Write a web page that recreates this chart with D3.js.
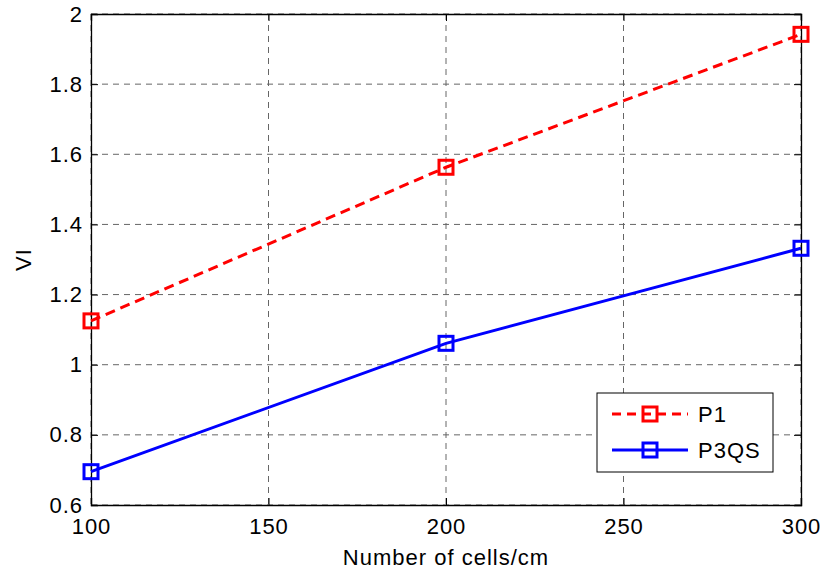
<!DOCTYPE html>
<html>
<head>
<meta charset="utf-8">
<script src="https://cdn.jsdelivr.net/npm/d3@7"></script>
<style>
  body { margin: 0; background: #fff; }
  text { font-family: "Liberation Sans", Arial, sans-serif; fill: #000; }
</style>
</head>
<body>
<div class="chart"></div>
<script>
var cells = [100, 200, 300];
var p1 = [1.125, 1.563, 1.942];
var p3qs = [0.695, 1.061, 1.332];
var xTicks = [100, 150, 200, 250, 300];
var yTicks = [0.6, 0.8, 1, 1.2, 1.4, 1.6, 1.8, 2];
var seriesNames = ["P1", "P3QS"];

var svgWidth = 824;
var svgHeight = 573;
var margin = { top: 14, right: 23, bottom: 68, left: 91 };
var width = svgWidth - margin.left - margin.right;
var height = svgHeight - margin.top - margin.bottom;
var fontSize = "22px";
var spacing = "1px";

var svg = d3.select(".chart").append("svg")
  .attr("width", svgWidth)
  .attr("height", svgHeight);

var chartGroup = svg.append("g")
  .attr("transform", `translate(${margin.left}, ${margin.top})`);

var xScale = d3.scaleLinear().domain([100, 300]).range([0, width]);
var yScale = d3.scaleLinear().domain([0.6, 2]).range([height, 0]);

// grid
chartGroup.selectAll(".vgrid").data(xTicks).enter().append("line")
  .attr("x1", d => xScale(d)).attr("x2", d => xScale(d))
  .attr("y1", 0).attr("y2", height)
  .attr("stroke", "#666").attr("stroke-width", 1)
  .attr("stroke-dasharray", "6,5");
chartGroup.selectAll(".hgrid").data(yTicks).enter().append("line")
  .attr("y1", d => yScale(d)).attr("y2", d => yScale(d))
  .attr("x1", 0).attr("x2", width)
  .attr("stroke", "#666").attr("stroke-width", 1)
  .attr("stroke-dasharray", "6,5");

// axes (inward ticks, box)
var bottomAxis = d3.axisBottom(xScale).tickValues(xTicks).tickSize(-7).tickPadding(13).tickFormat(d3.format("d"));
var leftAxis = d3.axisLeft(yScale).tickValues(yTicks).tickSize(-7).tickPadding(8).tickFormat(d => d3.format("")(d));
var topAxis = d3.axisTop(xScale).tickValues(xTicks).tickSize(-7).tickFormat("");
var rightAxis = d3.axisRight(yScale).tickValues(yTicks).tickSize(-7).tickFormat("");

chartGroup.append("g").attr("transform", `translate(0, ${height})`).call(bottomAxis);
chartGroup.append("g").call(leftAxis);
chartGroup.append("g").call(topAxis);
chartGroup.append("g").attr("transform", `translate(${width}, 0)`).call(rightAxis);

chartGroup.selectAll(".domain").attr("stroke", "#000").attr("stroke-width", 1.3);
chartGroup.selectAll(".tick line").attr("stroke", "#000");
chartGroup.selectAll(".tick text").attr("font-size", fontSize).attr("fill", "#000")
  .attr("letter-spacing", spacing)
  .style("font-family", "'Liberation Sans', Arial, sans-serif");

var line = d3.line().x((d, i) => xScale(cells[i])).y(d => yScale(d));

function drawSeries(values, color, dash) {
  chartGroup.append("path").datum(values)
    .attr("d", line)
    .attr("fill", "none")
    .attr("stroke", color)
    .attr("stroke-width", 3)
    .attr("stroke-dasharray", dash);
  chartGroup.selectAll(null).data(values).enter().append("rect")
    .attr("x", (d, i) => xScale(cells[i]) - 7)
    .attr("y", d => yScale(d) - 7)
    .attr("width", 14).attr("height", 14)
    .attr("fill", "none")
    .attr("stroke", color)
    .attr("stroke-width", 3);
}
drawSeries(p1, "#ff0000", "10,6");
drawSeries(p3qs, "#0000ff", null);

// legend
var legend = chartGroup.append("g")
  .attr("transform", `translate(${597 - margin.left}, ${393 - margin.top})`);
legend.append("rect")
  .attr("width", 176).attr("height", 79)
  .attr("fill", "#fff").attr("stroke", "#000").attr("stroke-width", 1);
var legendColors = ["#ff0000", "#0000ff"];
var legendDash = ["9,6", null];
seriesNames.forEach(function(name, i) {
  var y = 21 + i * 36;
  legend.append("line")
    .attr("x1", 15).attr("x2", 91).attr("y1", y).attr("y2", y)
    .attr("stroke", legendColors[i]).attr("stroke-width", 3)
    .attr("stroke-dasharray", legendDash[i]);
  legend.append("rect")
    .attr("x", 46).attr("y", y - 7).attr("width", 14).attr("height", 14)
    .attr("fill", "none").attr("stroke", legendColors[i]).attr("stroke-width", 3);
  legend.append("text")
    .attr("x", 101).attr("y", y + 8)
    .attr("font-size", fontSize)
    .attr("letter-spacing", spacing)
    .text(name);
});

// axis titles
chartGroup.append("text")
  .attr("transform", "rotate(-90)")
  .attr("x", -height / 2)
  .attr("y", -60)
  .attr("text-anchor", "middle")
  .attr("font-size", fontSize)
  .attr("letter-spacing", spacing)
  .text("VI");

chartGroup.append("text")
  .attr("x", width / 2)
  .attr("y", height + 60)
  .attr("text-anchor", "middle")
  .attr("font-size", fontSize)
  .attr("letter-spacing", spacing)
  .text("Number of cells/cm");
</script>
</body>
</html>
